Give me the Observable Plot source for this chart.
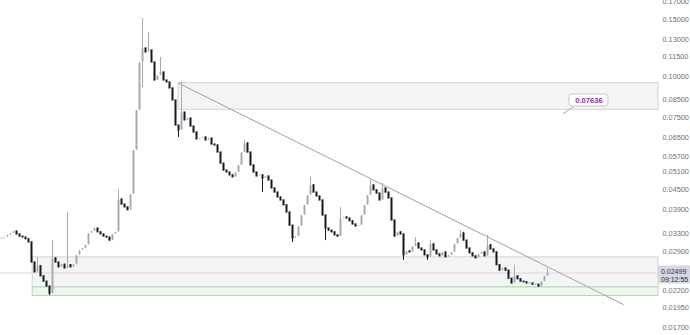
<!DOCTYPE html>
<html><head><meta charset="utf-8">
<script src="https://cdn.jsdelivr.net/npm/d3@7"></script>
<script src="https://cdn.jsdelivr.net/npm/@observablehq/plot@0.6"></script>
<style>body{margin:0;background:#fff;}#chart svg{display:block;}</style>
</head><body><div id="chart"></div>
<script>
// Close prices per candle (index 0..182)
const closes = [
0.0319,0.0321,0.0326,0.0330,0.0335,0.0328,0.0323,0.0321,0.0317,0.0310,
0.0269,0.0251,0.0262,0.0244,0.0235,0.0227,0.0216,0.0277,0.0269,0.0260,
0.0265,0.0258,0.0264,0.0260,0.0265,0.0283,0.0293,0.0297,0.0304,0.0330,
0.0335,0.0342,0.0333,0.0328,0.0323,0.0321,0.0314,0.0328,0.0333,0.0420,
0.0405,0.0397,0.0389,0.0435,0.0594,0.0787,0.1105,0.1220,0.1186,0.1203,
0.1105,0.0973,0.1008,0.1030,0.0973,0.0960,0.0920,0.0845,0.0708,0.0684,
0.0776,0.0734,0.0744,0.0703,0.0674,0.0642,0.0646,0.0651,0.0637,0.0646,
0.0619,0.0615,0.0585,0.0541,0.0515,0.0508,0.0498,0.0491,0.0508,0.0534,
0.0585,0.0624,0.0585,0.0534,0.0508,0.0494,0.0498,0.0487,0.0494,0.0480,
0.0454,0.0441,0.0426,0.0417,0.0403,0.0383,0.0349,0.0319,0.0323,0.0347,
0.0375,0.0403,0.0432,0.0464,0.0441,0.0429,0.0417,0.0375,0.0342,0.0337,
0.0333,0.0326,0.0323,0.0367,0.0370,0.0367,0.0360,0.0352,0.0347,0.0349,
0.0375,0.0403,0.0432,0.0464,0.0448,0.0438,0.0417,0.0454,0.0441,0.0423,
0.0362,0.0323,0.0333,0.0328,0.0283,0.0291,0.0289,0.0301,0.0308,0.0297,
0.0293,0.0283,0.0279,0.0306,0.0293,0.0285,0.0281,0.0289,0.0279,0.0283,
0.0289,0.0306,0.0319,0.0330,0.0314,0.0297,0.0287,0.0281,0.0277,0.0285,
0.0289,0.0281,0.0304,0.0295,0.0289,0.0264,0.0254,0.0258,0.0254,0.0240,
0.0232,0.0244,0.0239,0.0235,0.0234,0.0232,0.0232,0.0230,0.0230,0.0227,
0.0235,0.0244,0.02499
];
const firstOpen = 0.0318;
// Notable wicks: [candle index, price]
const wickHighs = [[12,0.0279],[17,0.0314],[22,0.0383],[31,0.0344],[39,0.0451],[47,0.1508],[49,0.1366],
  [53,0.1145],[60,0.0960],[81,0.0637],[103,0.0491],[113,0.0397],[123,0.0480],[127,0.0470],[138,0.0321],
  [143,0.0314],[153,0.0337],[154,0.0333],[162,0.0326],[171,0.0264],[182,0.0258]];
const wickLows = [[16,0.0213],[47,0.0926],[59,0.0651],[87,0.0441],[97,0.0310],[108,0.0314],[134,0.0273],
  [142,0.0273],[179,0.0226]];
const yTicks = [0.017,0.0195,0.022,0.029,0.033,0.039,0.045,0.051,0.057,0.065,0.075,0.085,0.1,0.115,0.13,0.15,0.17];
const lastPrice = 0.02499;
const lastTime = "09:12:55";
const trendLine = [[59,0.0955],[207.3,0.0200]];
// zones: [x1, x2, yTop, yBottom]
const greyZones = [[59,219,0.0955,0.0791],[10.4,219,0.0279,0.02256]];
const greenZones = [[10.4,219,0.02256,0.02124]];
const calloutBox = [[189.3,202.3,0.0882,0.0810]];
const calloutText = [[195.8,0.0846,"0.07636"]];
const calloutTail = [[187.3,0.0771],[190.6,0.0808]];
const tagBox = [219,229.7];

const hiMap = new Map(wickHighs), loMap = new Map(wickLows);
const candles = closes.map((c,i)=>{
  const o = i===0 ? firstOpen : closes[i-1];
  return {i, o, c, h: hiMap.get(i) ?? Math.max(o,c), l: loMap.get(i) ?? Math.min(o,c), up: c>=o};
});
const upCol = "#a7aab2", dnCol = "#15171c";

const chart = Plot.plot({
  width: 690, height: 335,
  marginTop: 0, marginBottom: 0, marginLeft: 0, marginRight: 32,
  x: {domain:[0,219], range:[1,658], axis:null},
  y: {type:"log", domain:[0.017,0.17], range:[327,1], axis:null},
  style: {fontFamily:"'Liberation Sans', Arial, sans-serif", fontSize:"7.3px", background:"#fff"},
  marks: [
    Plot.rect(greyZones, {x1:d=>d[0], x2:d=>d[1], y1:d=>d[2], y2:d=>d[3], fill:"#f4f4f4", stroke:"#d2d2d2", strokeWidth:1}),
    Plot.rect(greenZones, {x1:d=>d[0], x2:d=>d[1], y1:d=>d[2], y2:d=>d[3], fill:"#eef6ee", stroke:"#b3d9b3", strokeWidth:1}),
    Plot.ruleY([lastPrice], {stroke:"#d9d9d9", strokeWidth:1}),
    Plot.line(trendLine, {x:d=>d[0], y:d=>d[1], stroke:"#a0a0a0", strokeWidth:1}),
    Plot.ruleX(candles, {x:"i", y1:"l", y2:"h", stroke:d=>d.up?upCol:dnCol, strokeWidth:1}),
    Plot.ruleX(candles, {x:"i", y1:"o", y2:"c", stroke:d=>d.up?upCol:dnCol, strokeWidth:2, insetTop:-0.6, insetBottom:-0.6}),
    Plot.line(calloutTail, {x:d=>d[0], y:d=>d[1], stroke:"#b9bfcc", strokeWidth:1.3}),
    Plot.rect(calloutBox, {x1:d=>d[0], x2:d=>d[1], y1:d=>d[2], y2:d=>d[3], fill:"#fff", stroke:"#c8c8c8", rx:3}),
    Plot.text(calloutText, {x:d=>d[0], y:d=>d[1], text:d=>d[2], fill:"#9c27b0", fontWeight:"bold", fontSize:7.6}),
    Plot.axisY(yTicks, {anchor:"right", tickSize:0, tickPadding:4, tickFormat:d=>d.toFixed(5), fill:"#6b6e78", label:null, fontSize:7.3}),
    Plot.rect([lastPrice], {x1:tagBox[0], x2:tagBox[1], y1:d=>d, y2:d=>d, insetTop:-7, insetBottom:-11, fill:"#d5d8e0"}),
    Plot.text([lastPrice], {x:tagBox[0], y:d=>d, text:d=>d.toFixed(5)+"\n"+lastTime, textAnchor:"start", dx:2.5, dy:2,
      lineHeight:1.15, fill:"#2a2e39", fontSize:7})
  ]
});
document.getElementById("chart").append(chart);
</script>
</body></html>
